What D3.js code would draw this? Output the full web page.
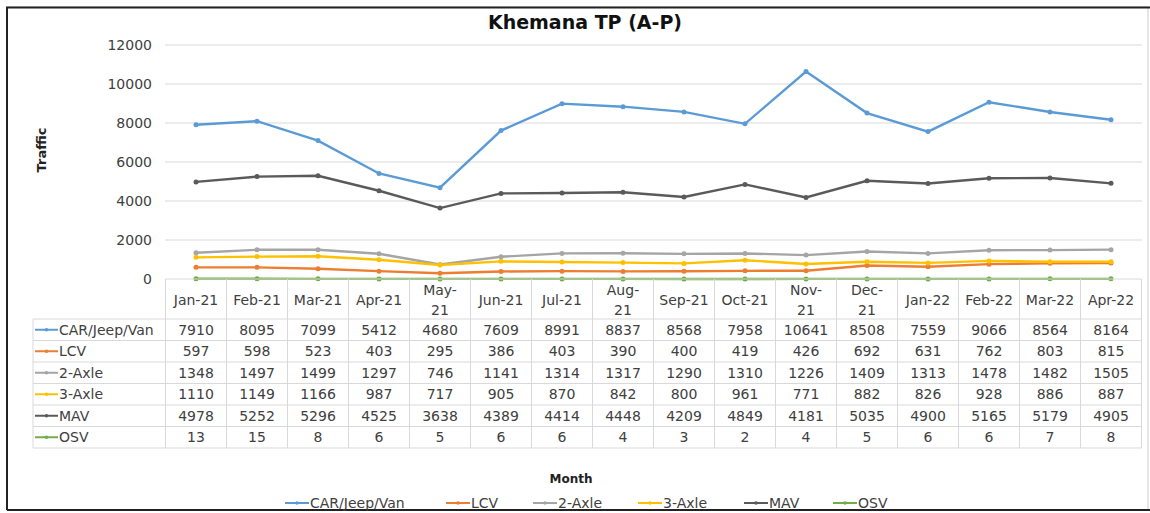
<!DOCTYPE html>
<html>
<head>
<meta charset="utf-8">
<script src="https://cdn.jsdelivr.net/npm/d3@7"></script>
<style>
    body { margin: 0; background: #fff; }
    svg { display: block; font-family: 'DejaVu Sans', Verdana, sans-serif; }
</style>
</head>
<body>
<div id="chart"></div>
<script>
// data
const months = ['Jan-21', 'Feb-21', 'Mar-21', 'Apr-21', 'May-21', 'Jun-21', 'Jul-21', 'Aug-21',
    'Sep-21', 'Oct-21', 'Nov-21', 'Dec-21', 'Jan-22', 'Feb-22', 'Mar-22', 'Apr-22'];
// how each month label is broken in the table header
const monthLabels = ['Jan-21', 'Feb-21', 'Mar-21', 'Apr-21', 'May-|21', 'Jun-21', 'Jul-21', 'Aug-|21',
    'Sep-21', 'Oct-21', 'Nov-|21', 'Dec-|21', 'Jan-22', 'Feb-22', 'Mar-22', 'Apr-22'];
const seriesNames = ['CAR/Jeep/Van', 'LCV', '2-Axle', '3-Axle', 'MAV', 'OSV'];
const carValues = [7910, 8095, 7099, 5412, 4680, 7609, 8991, 8837, 8568, 7958, 10641, 8508, 7559, 9066, 8564, 8164];
const lcvValues = [597, 598, 523, 403, 295, 386, 403, 390, 400, 419, 426, 692, 631, 762, 803, 815];
const axle2Values = [1348, 1497, 1499, 1297, 746, 1141, 1314, 1317, 1290, 1310, 1226, 1409, 1313, 1478, 1482, 1505];
const axle3Values = [1110, 1149, 1166, 987, 717, 905, 870, 842, 800, 961, 771, 882, 826, 928, 886, 887];
const mavValues = [4978, 5252, 5296, 4525, 3638, 4389, 4414, 4448, 4209, 4849, 4181, 5035, 4900, 5165, 5179, 4905];
const osvValues = [13, 15, 8, 6, 5, 6, 6, 4, 3, 2, 4, 5, 6, 6, 7, 8];
const yTicks = [0, 2000, 4000, 6000, 8000, 10000, 12000];

const colors = ['#5b9bd5', '#ed7d31', '#a5a5a5', '#ffc000', '#5a5a5a', '#70ad47'];
const series = seriesNames.map((name, i) => ({
    name,
    color: colors[i],
    values: [carValues, lcvValues, axle2Values, axle3Values, mavValues, osvValues][i]
}));

const W = 1150, H = 513;
const svg = d3.select('#chart').append('svg')
    .attr('width', W)
    .attr('height', H);

// frame
svg.append('rect').attr('x', 7).attr('y', 7).attr('width', 1141).attr('height', 503)
    .attr('fill', '#fff').attr('stroke', '#ccc').attr('stroke-width', 1);
svg.append('path').attr('d', 'M7,510 V7.5 H1150').attr('fill', 'none').attr('stroke', '#222').attr('stroke-width', 2);
svg.append('line').attr('x1', 7).attr('x2', 1150).attr('y1', 510).attr('y2', 510)
    .attr('stroke', '#222').attr('stroke-width', 2);

const x = d3.scaleBand().domain(months).range([165.5, 1141.5]).padding(0);
const cx = d => x(d) + x.bandwidth() / 2;
const y = d3.scaleLinear().domain([0, 12000]).range([279, 45]);

// gridlines
svg.append('g').selectAll('line')
    .data(yTicks.slice(1))
    .enter().append('line')
    .attr('x1', 165).attr('x2', 1142)
    .attr('y1', d => y(d)).attr('y2', d => y(d))
    .attr('stroke', '#d9d9d9').attr('stroke-width', 1);

// y axis labels
const yAxis = svg.append('g')
    .attr('transform', 'translate(158,0)')
    .call(d3.axisLeft(y).tickValues(yTicks).tickSize(0).tickPadding(6).tickFormat(d3.format('d')));
yAxis.select('.domain').remove();
yAxis.selectAll('text').attr('font-size', 14).attr('fill', '#404040')
    .attr('font-family', "'DejaVu Sans', Verdana, sans-serif");

// title and axis titles
svg.append('text').attr('x', 585).attr('y', 29).attr('text-anchor', 'middle')
    .attr('font-size', 19).attr('font-weight', 'bold').attr('fill', '#111')
    .text('Khemana TP (A-P)');
svg.append('text').attr('transform', 'translate(46,150) rotate(-90)')
    .attr('text-anchor', 'middle').attr('font-size', 13).attr('font-weight', 'bold').attr('fill', '#222')
    .text('Traffic');
svg.append('text').attr('x', 571).attr('y', 483).attr('text-anchor', 'middle')
    .attr('font-size', 12).attr('font-weight', 'bold').attr('fill', '#222')
    .text('Month');

// lines
const line = d3.line().x((d, i) => cx(months[i])).y(d => y(d));
const lineG = svg.append('g');
series.forEach(s => {
    lineG.append('path')
        .datum(s.values)
        .attr('d', line)
        .attr('fill', 'none')
        .attr('stroke', s.color)
        .attr('stroke-width', 2.4);
    lineG.selectAll(null)
        .data(s.values)
        .enter().append('circle')
        .attr('cx', (d, i) => cx(months[i]))
        .attr('cy', d => y(d))
        .attr('r', 2.5)
        .attr('fill', s.color);
});

// data table
const tableTop = 279, headerH = 40, rowH = 21.5;
const rowTop = i => tableTop + headerH + i * rowH;
const tableBottom = rowTop(series.length);
const grid = svg.append('g').attr('stroke', '#d9d9d9').attr('stroke-width', 1);
// horizontal lines
grid.append('line').attr('x1', 165.5).attr('x2', 1141.5).attr('y1', tableTop).attr('y2', tableTop).attr('stroke', '#d9d9d9');
d3.range(series.length + 1).forEach(i => {
    grid.append('line').attr('x1', 33).attr('x2', 1141.5)
        .attr('y1', rowTop(i)).attr('y2', rowTop(i));
});
// vertical lines
months.forEach(m => {
    grid.append('line').attr('x1', x(m)).attr('x2', x(m)).attr('y1', tableTop).attr('y2', tableBottom);
});
grid.append('line').attr('x1', 1141.5).attr('x2', 1141.5).attr('y1', tableTop).attr('y2', tableBottom);
grid.append('line').attr('x1', 33).attr('x2', 33).attr('y1', rowTop(0)).attr('y2', tableBottom);

// header labels
const header = svg.append('g').attr('font-size', 14).attr('fill', '#404040').attr('text-anchor', 'middle');
monthLabels.forEach((lab, i) => {
    const parts = lab.split('|');
    const t = header.append('text').attr('x', cx(months[i]));
    if (parts.length === 1) {
        t.attr('y', tableTop + 26).text(parts[0]);
    } else {
        t.append('tspan').attr('x', cx(months[i])).attr('y', tableTop + 16).text(parts[0]);
        t.append('tspan').attr('x', cx(months[i])).attr('y', tableTop + 36).text(parts[1]);
    }
});

// rows
const rows = svg.append('g').attr('font-size', 14).attr('fill', '#404040');
series.forEach((s, r) => {
    const ym = rowTop(r) + rowH / 2;
    rows.append('line').attr('x1', 35).attr('x2', 58).attr('y1', ym).attr('y2', ym)
        .attr('stroke', s.color).attr('stroke-width', 2);
    rows.append('circle').attr('cx', 46.5).attr('cy', ym).attr('r', 1.8).attr('fill', s.color);
    rows.append('text').attr('x', 59).attr('y', ym + 5).text(s.name);
    rows.selectAll(null)
        .data(s.values)
        .enter().append('text')
        .attr('x', (d, i) => cx(months[i]))
        .attr('y', ym + 5)
        .attr('text-anchor', 'middle')
        .text(d => d);
});

// legend
const legendX = [285, 446, 533, 638, 744, 833];
const legend = svg.append('g').attr('font-size', 14).attr('fill', '#404040');
series.forEach((s, i) => {
    const g = legend.append('g').attr('transform', `translate(${legendX[i]},503)`);
    g.append('line').attr('x1', 0).attr('x2', 24).attr('stroke', s.color).attr('stroke-width', 2);
    g.append('circle').attr('cx', 12).attr('r', 1.8).attr('fill', s.color);
    g.append('text').attr('x', 25).attr('y', 5).text(s.name);
});
</script>
</body>
</html>
